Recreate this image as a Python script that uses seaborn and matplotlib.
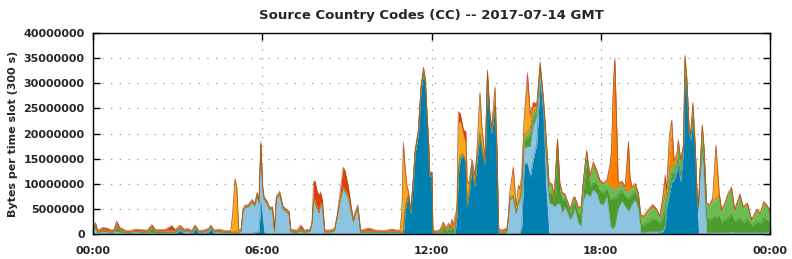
import numpy as np
import pandas as pd
import seaborn as sns
import matplotlib.pyplot as plt

# knot times in minutes after 00:00 GMT
minutes = [
    0, 5, 10, 20, 30, 38, 45, 50, 57, 70, 80, 90, 100, 115, 125, 133, 153, 167, 175, 185,
    193, 202, 210, 217, 225, 235, 245, 251, 257, 266, 281, 293,
    297, 302, 306, 310, 315, 319, 323, 330, 338, 344, 349, 353, 357, 361, 364, 370, 375, 382,
    386, 390, 397, 404, 412, 417, 421, 434, 442, 449, 462, 466, 469, 472, 477, 481, 484, 488,
    493, 504, 514, 519, 525, 532, 536, 543, 549, 554, 558, 563, 566, 569, 587, 600, 620, 635,
    645, 653,
    657, 660, 664, 668, 671, 676, 682, 685, 692, 698, 703, 707, 710, 714, 716, 721, 723, 729,
    738, 745, 751, 756, 760, 763, 767, 770,
    774, 777, 781, 784, 788, 793, 796, 800, 806, 812, 816, 823, 827, 834, 839, 844, 848, 855,
    859, 863, 870, 876, 880,
    883, 887, 894, 900, 905, 908, 912, 917, 924, 930, 936, 944, 951, 958, 963, 970, 976, 981,
    988, 993, 998, 1004, 1015, 1022, 1025, 1032, 1038, 1043, 1050, 1057, 1064, 1071, 1078,
    1085, 1093, 1100, 1103, 1107, 1110, 1114, 1117, 1125, 1132, 1139, 1142, 1146, 1153, 1160,
    1165,
    1171, 1181, 1190, 1199, 1206, 1212, 1217, 1220, 1226, 1231, 1236, 1242, 1245, 1250, 1256,
    1259, 1263, 1268, 1271, 1276, 1281, 1285, 1288, 1291, 1296, 1300, 1305, 1312, 1318, 1325,
    1332, 1337, 1344, 1351, 1358, 1365, 1376, 1383, 1392, 1401, 1412, 1419, 1427, 1436, 1440,
]

# bytes per slot in millions, one list per layer, bottom of the stack first
dark_blue = [
    0, 0, 0, 0, 0, 0, 0, 0, 0, 0, 0, 0, 0, 0, 0, 0, 0, 0, 0, .8,
    .1, .2, 0, 1.1, 0, .1, .4, 1.1, 0, 0, 0, 0,
    0, 0, 0, 0, 0, 0, .1, .1, .1, .3, .3, .5, 6.5, 3.0, .3, 0, 0, 0,
    0, 0, 0, 0, 0, 0, 0, 0, 0, 0, 0, 0, 0, 0, 0, 0, 0, 0,
    0, 0, 0, 0, 0, 0, 0, 0, 0, 0, 0, 0, 0, 0, 0, 0, 0, 0,
    0, 0,
    0, 0, 4.5, 6.8, 7.4, 4.1, 11.4, 16.0, 20.0, 29.0, 31.9, 30.0, 24.3, 17.6, 11.6, 11.4, 0, 0,
    0, 0, 0, 0, 0, 0, 0, 0,
    3.5, 12.0, 14.7, 15.4, 15.4, 14.0, 5.5, 8.0, 13.4, 9.4, 14.0, 19.7, 16.7, 13.7, 31.5, 23.4, 20.0, 25.3,
    16.7, 0, 0, 0, 0,
    0, 0, 0, 0, 0, 0, 1.5, 14.0, 14.0, 11.4, 14.7, 18.0, 30.6, 23.4, 10.0, 0, 0, 0,
    0, 0, 0, 0, 0, 0, 0, 0, 0, 0, 0, 0, 0, 0, 0,
    0, 0, 0, 0, 0, 0, 0, 0, 0, 0, 0, 0, 0, 0, 0,
    0,
    .1, .2, .2, .2, .3, .5, 1.5, 5.0, 8.0, 10.4, 10.8, 12.7, 14.0, 10.4, 16.7,
    31.0, 28.7, 20.0, 18.7, 22.7, 16.7, 6.8, 0, 0, 0, 0, 0, 0, 0, 0,
    0, 0, 0, 0, 0, 0, 0, 0, 0, 0, 0, 0, 0, 0, 0,
]
light_blue = [
    .4, 1.0, .2, .4, .4, .2, .3, .5, .3, .2, .2, .4, .3, .2, .3, .2, .2, .3, .2, .2,
    .3, .3, .2, .2, .2, .2, .2, .2, .3, .4, .2, .2,
    .2, .2, .2, .3, .5, 4.3, 5.1, 5.2, 6.2, 5.2, 7.4, 5.6, 11.2, 5.8, 6.5, 6.0, 4.8, 4.8,
    .3, 7.0, 7.8, 5.0, 4.3, 3.9, .3, .2, .5, .2, .5, 2.0, 6.4, 6.2, 4.9, 4.1, 5.8, 5.6,
    .3, .3, .6, 3.0, 6.2, 9.0, 8.4, 7.2, 4.4, 2.3, 4.0, 4.8, 3.0, .3, .3, .3, .2, .3,
    .2, .2,
    .1, .1, .1, .1, .1, .1, .1, .1, .1, .1, .1, .1, .1, .1, .1, .1, .2, .1,
    .1, .2, .1, .2, .1, .2, .1, .3,
    .1, .1, .1, .1, .1, .1, .1, .1, .1, .1, .1, .1, .1, .1, .1, .1, .1, .1,
    .1, .2, .1, .1, .1,
    2.5, 6.8, 7.2, 4.0, 6.0, 6.5, 6.5, 3.0, 3.4, 6.0, 6.7, 5.4, 1.4, 1.9, 5.0, 6.1, 6.0, 5.4,
    6.0, 6.0, 4.1, 5.4, 2.8, 4.1, 5.0, 2.1, 1.5, 6.8, 8.1, 7.4, 8.8, 8.1, 6.1,
    5.8, 7.4, 2.0, 1.0, 1.2, 1.5, 3.5, 5.0, 6.5, 5.5, 4.5, 5.0, 5.8, 6.8, 5.0,
    .3,
    .2, .2, .3, .3, .2, .3, .2, .2, .2, .2, .2, .2, .2, .2, .2,
    .2, .2, .2, .2, .2, .2, .2, 4.6, 10.7, 16.0, 10.0, .3, .3, .3, .3,
    .3, .3, .3, .3, .4, .3, .3, .3, .3, .3, .3, .3, .3, .3, .3,
]
dark_green = [
    .2, .6, .1, .1, .1, .1, .1, 1.1, .3, .1, .1, .1, .1, .1, .9, .1, .1, .1, .1, .3,
    .1, .1, .1, .1, .1, .1, .1, .1, .1, .1, .1, .1,
    0, 0, 0, 0, .1, .1, .1, .1, .1, .1, .1, .1, .1, .1, .1, .1, .1, .1,
    .1, .1, .1, .1, .1, .1, .1, .1, .2, .1, .1, .1, .1, .1, .1, .1, .1, .1,
    .1, .1, .1, .1, .1, .1, .1, .1, .1, .1, .1, .1, .1, .1, .1, .1, .1, .1,
    .1, .1,
    .1, .1, .1, .1, .1, .1, .1, .1, .1, .1, .1, .1, .1, .1, .1, .1, .1, .1,
    .3, 1.0, .5, .9, .6, 1.2, .7, .6,
    .2, .2, .2, .2, .1, .1, .1, .1, .1, .1, .1, .1, .1, .1, .1, .1, .1, .1,
    .1, .2, .2, .3, .2,
    .1, .2, .2, .2, .2, .3, .5, 1.5, 1.8, 2.3, 1.8, 1.0, .8, .8, 2.5, 2.0, 2.0, 1.0,
    11.8, 2.5, 2.7, 1.5, 1.2, 1.8, 1.2, 2.0, 2.3, 2.0, 6.6, 2.0, 1.3, 1.9, 2.4,
    2.4, 1.5, 5.0, 6.0, 6.0, 5.5, 4.0, 3.0, 2.0, 2.0, 2.5, 2.5, 2.0, 1.5, 1.6,
    1.8,
    1.5, 2.0, 2.5, 2.3, 1.6, 2.6, 3.2, 1.5, 2.0, 1.5, 1.0, .8, 1.0, 1.0, .3,
    .5, .5, .3, .3, .3, .2, .3, .5, .5, 1.0, 4.0, 3.0, 2.5, 3.0, 3.0,
    3.2, 2.0, 2.5, 3.0, 3.5, 2.2, 2.8, 2.0, 2.7, 1.3, 2.2, 1.8, 2.8, 2.3, 1.8,
]
light_green = [
    0, .1, 0, 0, 0, 0, 0, .1, 0, 0, 0, 0, 0, 0, .1, 0, 0, 0, 0, 0,
    0, 0, 0, 0, 0, 0, 0, 0, 0, 0, 0, 0,
    0, 0, 0, 0, 0, 0, 0, 0, 0, 0, 0, 0, 0, 0, 0, 0, 0, 0,
    0, 0, 0, 0, 0, 0, 0, 0, 0, 0, 0, 0, 0, 0, 0, 0, 0, 0,
    0, 0, 0, 0, 0, 0, 0, 0, 0, 0, 0, 0, 0, 0, 0, 0, 0, 0,
    0, 0,
    0, 0, 0, 0, 0, 0, 0, 0, .1, .1, .3, .2, .1, 0, 0, 0, 0, 0,
    .1, .2, .1, .2, .1, .3, .1, .1,
    0, .1, .1, .1, .1, .1, .1, .1, .1, .1, .1, .1, .2, .1, .3, .1, .1, .1,
    .1, .1, .1, .1, .1,
    .1, .1, .1, .1, .2, .2, .5, .8, .8, 1.0, .8, .6, .5, .6, 2.5, 1.8, 1.6, .8,
    .8, 1.3, 1.1, .7, .6, 1.0, .7, 1.0, 1.2, 1.5, 1.5, 1.7, 3.6, 2.2, 1.8,
    1.6, 1.4, 2.4, 2.4, 2.0, 1.8, 1.5, 1.4, 1.3, 1.3, 1.5, 1.5, 1.2, 1.3, 1.1,
    1.3,
    1.4, 2.1, 2.3, 1.8, 1.2, 2.5, 2.8, 1.5, 2.0, 1.6, 1.4, 1.2, 2.5, 2.5, .3,
    3.0, 1.2, .3, .3, .3, .2, .3, .5, 1.0, 4.4, 2.5, 2.6, 2.8, 3.5, 3.5,
    4.2, 2.2, 3.0, 4.5, 4.6, 2.0, 4.5, 2.8, 2.8, 1.0, 2.2, 1.8, 3.0, 2.5, 2.1,
]
orange = [
    .1, .1, .1, .2, .2, .1, .2, .2, .2, .1, .1, .1, .1, .1, .1, .2, .2, .3, .2, .1,
    .1, .1, .1, .1, .1, .1, .1, .1, .1, .1, .1, .1,
    .2, .3, .3, .1, .1, .1, .1, .1, .1, .1, .1, .1, .1, .1, .1, .1, .1, .1,
    .1, .1, .1, .1, .1, .1, .1, .1, .2, .1, .1, .1, .2, .2, .1, .1, .1, .1,
    .1, .1, .1, .1, .1, .2, .2, .1, .1, .1, .1, .1, .1, .1, .2, .1, .1, .2,
    .1, .1,
    .2, .3, .2, .1, .1, .1, .1, .1, .1, .1, .2, .1, .1, .1, .1, .1, .1, .1,
    .1, .5, .2, .4, .2, .6, .3, .3,
    .2, .2, .3, .3, .2, .2, .2, .2, .2, .2, .2, .3, .2, .2, .2, .2, .2, .4,
    .2, .2, .1, .2, .1,
    .1, .1, .3, .1, .2, .2, .2, .2, .5, .3, .2, .2, .2, .1, .1, .1, .1, .1,
    .1, .1, .1, .1, .1, .1, .1, .1, .1, .1, .1, .1, .1, .1, .1,
    .1, .1, 4.0, 7.0, 20.5, 25.5, 12.0, .5, .3, .3, 9.5, 2.2, .1, .1, .1,
    .1,
    .1, .1, .1, .1, .1, 1.0, 2.8, .3, 4.0, 5.5, .8, .5, .4, .3, .1,
    .3, .3, .2, .2, 2.2, .3, .2, .1, .1, .1, .1, .1, .1, .1, .2,
    .1, .1, .1, .1, .1, .1, .1, .1, .1, .1, .1, .1, .1, .1, .1,
]
gold = [
    .1, .1, .1, .1, .1, .1, .1, .1, .1, .1, .1, .1, .1, .1, .1, .1, .1, .1, .1, .1,
    .1, .1, .1, .1, .1, .1, .1, .1, .1, .1, .1, .1,
    3.5, 10.2, 8.5, .2, .1, .1, .1, .1, .1, .1, .1, .1, .1, .1, .1, .1, .1, .1,
    .1, .1, .1, .1, .1, .1, .1, .1, .2, .1, .1, .1, .1, .2, .1, .1, .1, .1,
    .1, .1, .1, .1, .1, .1, .1, .1, .1, .1, .1, .1, .1, .1, .1, .1, .1, .1,
    .1, .1,
    4.0, 16.5, 7.5, 2.0, .6, .3, .2, .2, .2, .2, .4, .2, .1, .1, .1, .1, .1, .1,
    .1, .2, .1, .2, .1, .3, .2, 1.5,
    .7, 9.5, 7.0, 5.5, 3.5, 3.6, 4.0, 1.5, .6, 1.5, .8, 7.5, 4.0, .5, .3, .3, .5, 3.0,
    .8, .2, .1, .1, .1,
    .3, 1.2, 5.2, 1.0, 2.8, 1.5, 2.5, 3.0, 9.5, 2.0, 1.0, .4, .4, .2, .2, .1, .1, .1,
    .1, .1, .1, .1, .1, .1, .1, .1, .1, .1, .1, .1, .1, .1, .1,
    .1, .1, .2, .1, .1, .2, .1, .1, .1, .1, .1, .1, .1, .1, .1,
    .1,
    .1, .1, .1, .1, .1, .3, .5, .2, 3.0, 3.2, .3, .3, .3, .2, .1,
    .3, .2, .1, .1, .2, .1, .1, .1, .1, .1, .1, .1, .1, .1, 10.5,
    .2, .1, .1, .1, .1, .1, .1, .1, .1, .1, .1, .1, .1, .1, .1,
]
red = [
    .3, .4, .3, .5, .4, .3, .3, .6, .4, .2, .2, .3, .3, .3, .4, .3, .3, .9, .3, .3,
    .3, .3, .2, .2, .2, .2, .2, .2, .2, .3, .2, .2,
    .2, .3, .2, .2, .2, .3, .3, .2, .3, .3, .3, .3, .4, .3, .3, .3, .3, .3,
    .2, .3, .4, .3, .3, .3, .3, .3, .7, .3, .2, .2, 3.6, 3.9, 3.2, 3.4, 2.3, .8,
    .2, .2, .3, .4, 1.5, 3.9, 3.8, 1.9, .9, .3, .3, .7, .3, .2, .5, .2, .2, .3,
    .3, .3,
    .4, 1.3, .6, .3, .2, .2, .2, .2, .2, .2, .2, .2, .2, .2, .5, .4, .3, .2,
    .2, .3, .2, .3, .3, .4, .4, 1.0,
    .3, 2.2, 1.6, 1.0, 1.3, 2.3, .5, .3, .4, .3, .3, .4, .3, .2, .2, .2, .2, .3,
    .2, .2, .2, .3, .3,
    .2, .2, .4, .2, .4, .3, .3, .5, 2.1, 1.0, 1.0, .4, .4, .2, .2, .2, .2, .2,
    .2, .2, .2, .2, .2, .3, .3, .2, .2, .3, .3, .3, .5, .4, .3,
    .2, .3, .4, .3, .3, .5, .4, .3, .3, .3, .3, .2, .3, .3, .3,
    .3,
    .2, .2, .4, .2, .1, .3, .8, .2, .5, .3, .2, .3, .4, .2, .1,
    .3, .2, .1, .1, .3, .1, .1, .1, .1, .1, .1, .1, .1, .2, .2,
    .2, .2, .2, .2, .7, .2, .2, .2, .2, .1, .1, .1, .2, .1, .1,
]

layer_names = ["dark_blue", "light_blue", "dark_green", "light_green", "orange", "gold", "red"]
layer_colors = ["#0080b0", "#8cc4e2", "#4c9c2c", "#6cbc54", "#ff8000", "#f8a818", "#e04008"]
edge_colors = ["#3a86ae", "#7aa8c4", "#3f7f28", "#5a9a48", "#c86a10", "#c88a20", "#a03818"]

series = {"dark_blue": dark_blue, "light_blue": light_blue, "dark_green": dark_green,
          "light_green": light_green, "orange": orange, "gold": gold, "red": red}
bad = {k: len(v) for k, v in series.items() if len(v) != len(minutes)}
if bad:
    raise SystemExit("length mismatch vs %d: %s" % (len(minutes), bad))

df = pd.DataFrame({"minute": minutes, **series})
df["hour"] = df["minute"] / 60.0

sns.set_theme(style="white")
plt.rcParams["font.family"] = ["DejaVu Sans"]

fig, ax = plt.subplots(figsize=(7.92, 2.59), dpi=100)
fig.subplots_adjust(left=93 / 792, right=770 / 792, top=1 - 33 / 259, bottom=1 - 234 / 259)

base = np.zeros(len(df))
for name, col, edge in zip(layer_names, layer_colors, edge_colors):
    top = base + df[name].to_numpy() * 1e6
    ax.fill_between(df["hour"], base, top, color=col, lw=0, zorder=2)
    sns.lineplot(x=df["hour"].to_numpy(), y=top, color=edge, lw=0.5, alpha=0.7,
                 ax=ax, zorder=3, legend=False)
    base = top

ax.set_xlim(0, 24)
ax.set_ylim(0, 40e6)
ax.set_xticks([0, 6, 12, 18, 24])
ax.set_xticklabels(["00:00", "06:00", "12:00", "18:00", "00:00"])
yt = np.arange(0, 40e6 + 1, 5e6)
ax.set_yticks(yt)
ax.set_yticklabels([str(int(v)) for v in yt])

for lab in ax.get_xticklabels() + ax.get_yticklabels():
    lab.set_fontweight("bold")
    lab.set_fontsize(8)
ax.tick_params(axis="y", which="major", direction="in", left=True, right=True,
               length=5, width=1, color="black", pad=6)
ax.tick_params(axis="x", which="major", direction="in", bottom=True, top=True,
               length=5, width=1, color="black", pad=9)

ax.grid(True, linestyle=(0, (1, 6)), color="#999999", lw=0.9)
ax.set_axisbelow(True)
for sp in ax.spines.values():
    sp.set_color("black")
    sp.set_linewidth(1.0)
    sp.set_zorder(5)

ax.set_ylabel("Bytes per time slot (300 s)", fontsize=8, fontweight="bold", labelpad=4)
ax.set_xlabel("")
ax.set_title("Source Country Codes (CC) -- 2017-07-14 GMT", fontsize=9.5, fontweight="bold", pad=10)

fig.savefig("out.png", dpi=100)
